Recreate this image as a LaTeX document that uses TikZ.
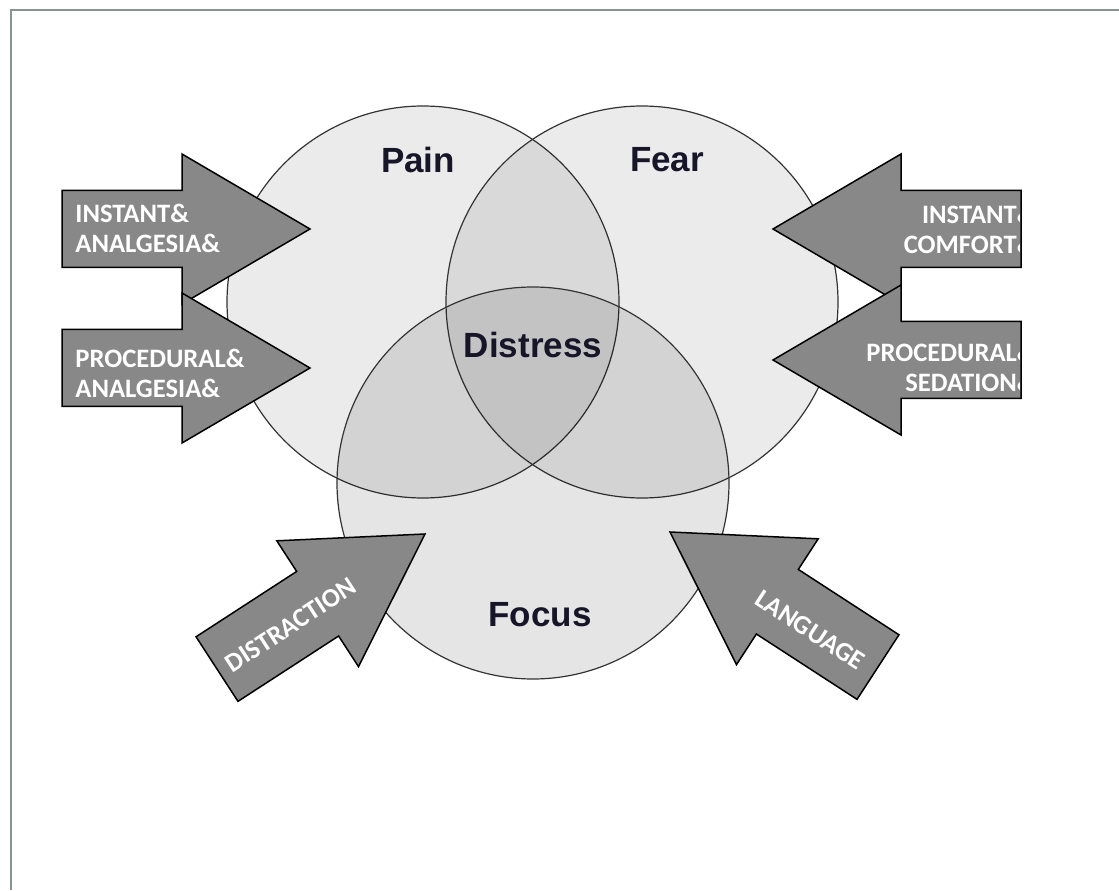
\documentclass[tikz,border=0pt]{standalone}
\usepackage{fontspec}
\setmainfont{Liberation Sans}
\newfontfamily\calibri{Carlito}
\usepackage{xcolor}
\definecolor{framegray}{RGB}{135,148,146}
\definecolor{arrowgray}{RGB}{136,136,136}
\definecolor{labelink}{RGB}{22,22,40}
\tikzstyle{venn} = [draw=black!80, line width=0.6pt, circle, fill=black,
   fill opacity=0.08, text opacity=1, minimum size=196pt, inner sep=0]
\tikzstyle{vennLabel} = [font=\bfseries\fontsize{17.5}{20}\selectfont, text=labelink]
\tikzstyle{arrowText} = [font=\calibri\bfseries\fontsize{13.3}{15}\selectfont,
   text=white, inner sep=0]
\tikzstyle{blockArrow} = [draw=black, line width=0.75pt, fill=arrowgray, line join=miter]
\tikzset{bigarrow/.pic={
  \draw[blockArrow] (0,0) -- (-128,75) -- (-128,38.5) -- (-248,38.5)
     -- (-248,-38.5) -- (-128,-38.5) -- (-128,-75) -- cycle;
}}

\begin{document}
\begin{tikzpicture}[x=0.5pt, y=0.5pt]
  \useasboundingbox (0,0) rectangle (1119,890);
  \draw[framegray, line width=1pt] (11,0) -- (11,880) -- (1119,880);

  % the three circles
  \node[venn] (pain) at (423,588) {};
  \node[venn] (fear) at (642,588) {};
  \node[venn, fill opacity=0.1] (focus) at (533,407) {};

  \node[vennLabel] (painLbl) at (418,730) {Pain};
  \node[vennLabel] (fearLbl) at (667,730) {Fear};
  \node[vennLabel] (distressLbl) at (533,545) {Distress};
  \node[vennLabel] (focusLbl) at (540,275) {Focus};

  % block arrows, tip first
  \pic at (310,661) {bigarrow};
  \pic at (310,522) {bigarrow};
  \pic[rotate=180] at (773,661) {bigarrow};
  \pic[rotate=180] at (773,530) {bigarrow};
  \pic[rotate=33] at (425,356) {bigarrow};
  \pic[rotate=147] at (670,358) {bigarrow};

  % arrow texts
  \node[arrowText, anchor=west, align=left] (instAnalg) at (75,662) {INSTANT\&\\ANALGESIA\&};
  \node[arrowText, anchor=west, align=left] (procAnalg) at (75,517) {PROCEDURAL\&\\ANALGESIA\&};
  \begin{scope}
    \clip (0,0) rectangle (1019,890);
    \node[arrowText, anchor=east, align=right] (instComf) at (1036,661) {INSTANT\&\\COMFORT\&};
    \node[arrowText, anchor=east, align=right] (procSed) at (1036,523) {PROCEDURAL\&\\SEDATION\&};
  \end{scope}
  \node[arrowText, rotate=33] (distract) at (291,265) {DISTRACTION};
  \node[arrowText, rotate=-33] (lang) at (810,260) {LANGUAGE};
\end{tikzpicture}
\end{document}
